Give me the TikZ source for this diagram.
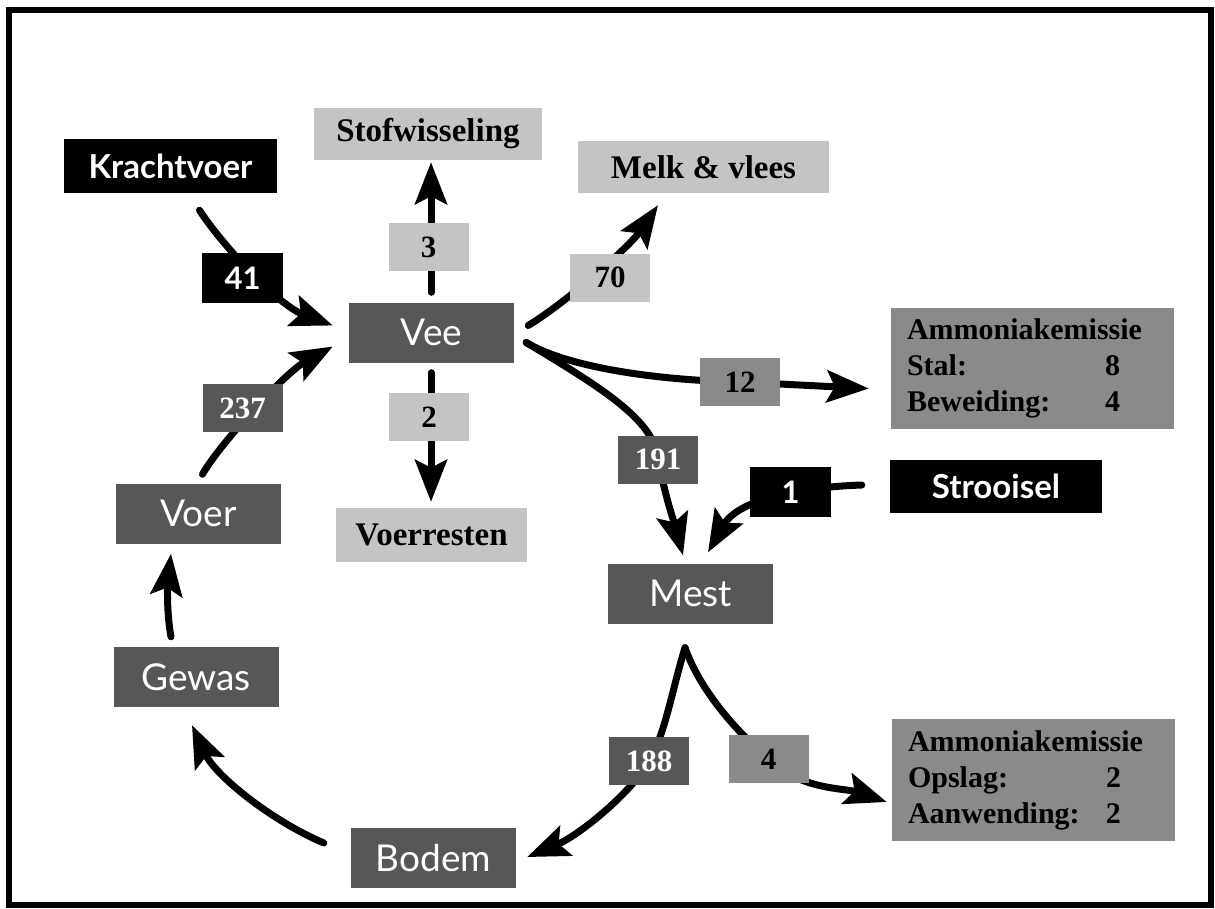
\documentclass[tikz,border=0pt]{standalone}
\usepackage{fontspec}
\setmainfont{Liberation Serif}
\newfontfamily\lato{Lato}
\usetikzlibrary{arrows.meta}
\definecolor{lightbox}{HTML}{C4C4C4}
\definecolor{midbox}{HTML}{8A8A8A}
\definecolor{darkbox}{HTML}{575757}
\pgfdeclarelayer{back}
\pgfdeclarelayer{bg}
\pgfsetlayers{back,bg,main}
\begin{document}
\begin{tikzpicture}[x=1pt,y=-1pt,
 box/.style={inner sep=0pt, anchor=center},
 blackbox/.style={box, fill=black, text=white, font=\lato\bfseries\fontsize{33}{33}\selectfont},
 lightlbl/.style={box, fill=lightbox, text=black, font=\bfseries\fontsize{33}{33}\selectfont},
 darknode/.style={box, fill=darkbox, text=white, minimum width=165pt, minimum height=60pt, font=\lato\fontsize{37}{37}\selectfont},
 num/.style={box, font=\bfseries\fontsize{31}{31}\selectfont, minimum width=80pt, minimum height=48pt},
 lightnum/.style={num, fill=lightbox},
 midnum/.style={num, fill=midbox},
 darknum/.style={num, fill=darkbox, text=white},
 blacknum/.style={box, fill=black, text=white, minimum width=81pt, minimum height=50pt, font=\lato\bfseries\fontsize{31}{31}\selectfont},
 ammbox/.style={box, fill=midbox, minimum height=121pt, text width=251pt, inner xsep=16pt, align=left, font=\bfseries\fontsize{30}{36}\selectfont},
 flow/.style={line width=7pt, line cap=round, -{Stealth[length=42pt,width=32pt,inset=8pt]}}
]
\useasboundingbox (0,0) rectangle (1215,908);
\begin{pgfonlayer}{back}
\fill[white] (0,0) rectangle (1215,908);
\end{pgfonlayer}
\draw[line width=6pt] (9,10) rectangle (1211,905);

% nodes
\node[blackbox, minimum width=213pt, minimum height=54pt] (K) at (170.5,166) {Krachtvoer};
\node[lightlbl, minimum width=228pt, minimum height=52pt] (Stof) at (428,134) {Stofwisseling};
\node[lightlbl, minimum width=251pt, minimum height=52pt] (Melk) at (703.5,167) {Melk \& vlees};
\node[blacknum] (n41) at (242.5,278) {41};
\node[lightnum] (n3) at (428.5,247) {3};
\node[lightnum] (n70) at (610,277.5) {70};
\node[darknode] (Vee) at (431.5,332.5) {Vee};
\node[midnum] (n12) at (740,382) {12};
\node[ammbox] (amm1) at (1032.5,368.5) {Ammoniakemissie\\\makebox[213pt][l]{Stal:\hfill 8}\\\makebox[213pt][l]{Beweiding:\hfill 4}};
\node[darknum] (n237) at (242.5,408) {237};
\node[lightnum] (n2) at (429,417) {2};
\node[darknum] (n191) at (658,459.5) {191};
\node[blacknum] (n1) at (790.5,492) {1};
\node[blackbox, minimum width=212pt, minimum height=53pt] (Stro) at (996,486.5) {Strooisel};
\node[darknode] (Voer) at (198.5,513.5) {Voer};
\node[lightlbl, minimum width=191pt, minimum height=54pt] (Voerr) at (431.5,535) {Voerresten};
\node[darknode] (Mest) at (690.5,593.5) {Mest};
\node[darknode] (Gewas) at (196,677) {Gewas};
\node[darknum] (n188) at (649,761) {188};
\node[midnum] (n4) at (768.5,759) {4};
\node[ammbox, minimum height=122pt] (amm2) at (1033.5,780) {Ammoniakemissie\\\makebox[213pt][l]{Opslag:\hfill 2}\\\makebox[213pt][l]{Aanwending:\hfill 2}};
\node[darknode] (Bodem) at (433.5,858) {Bodem};

% connectors
\begin{pgfonlayer}{bg}
\draw[flow] ([shift={(29,17)}]K.south) .. controls (222,245) and (278,305) .. ([shift={(-16,-7)}]Vee.west);
\draw[flow] ([shift={(4,-9)}]Voer.north) .. controls (216,449) and (283,374) .. ([shift={(-16,14)}]Vee.west);
\draw[flow] ([shift={(-0.5,-10)}]Vee.north) -- ([shift={(3,2)}]Stof.south);
\draw[flow] ([shift={(-0.5,10)}]Vee.south) -- ([shift={(-0.5,-6)}]Voerr.north);
\draw[flow] ([shift={(14,-7)}]Vee.east) .. controls (567,302) and (630,246) .. ([shift={(-45.5,12)}]Melk.south);
\draw[flow] ([shift={(12,10)}]Vee.east) .. controls (565,366) and (650,380) .. (n12.center) -- ([shift={(-22,20)}]amm1.west);
\draw[flow] ([shift={(12,10)}]Vee.east) .. controls (600,387) and (655,420) .. (n191.center) .. controls (666,500) and (675,525) .. ([shift={(-7.5,-8)}]Mest.north);
\draw[flow] ([shift={(-28,-1.5)}]Stro.west) .. controls (780,488) and (735,505) .. ([shift={(17.5,-11)}]Mest.north);
\draw[flow] ([shift={(-5.5,24)}]Mest.south) .. controls (672,690) and (665,735) .. (n188.center) .. controls (633,791) and (580,835) .. ([shift={(11,-1)}]Bodem.east);
\draw[flow] ([shift={(-5.5,24)}]Mest.south) .. controls (700,690) and (735,730) .. (n4.center) .. controls (800,790) and (845,788) .. ([shift={(-5,22)}]amm2.west);
\draw[flow] ([shift={(-27,-15)}]Bodem.west) .. controls (270,820) and (215,775) .. ([shift={(-4,18)}]Gewas.south);
\draw[flow] ([shift={(-25,-10)}]Gewas.north) .. controls (166,610) and (168,580) .. ([shift={(-27.5,10)}]Voer.south);
\end{pgfonlayer}
\end{tikzpicture}
\end{document}
